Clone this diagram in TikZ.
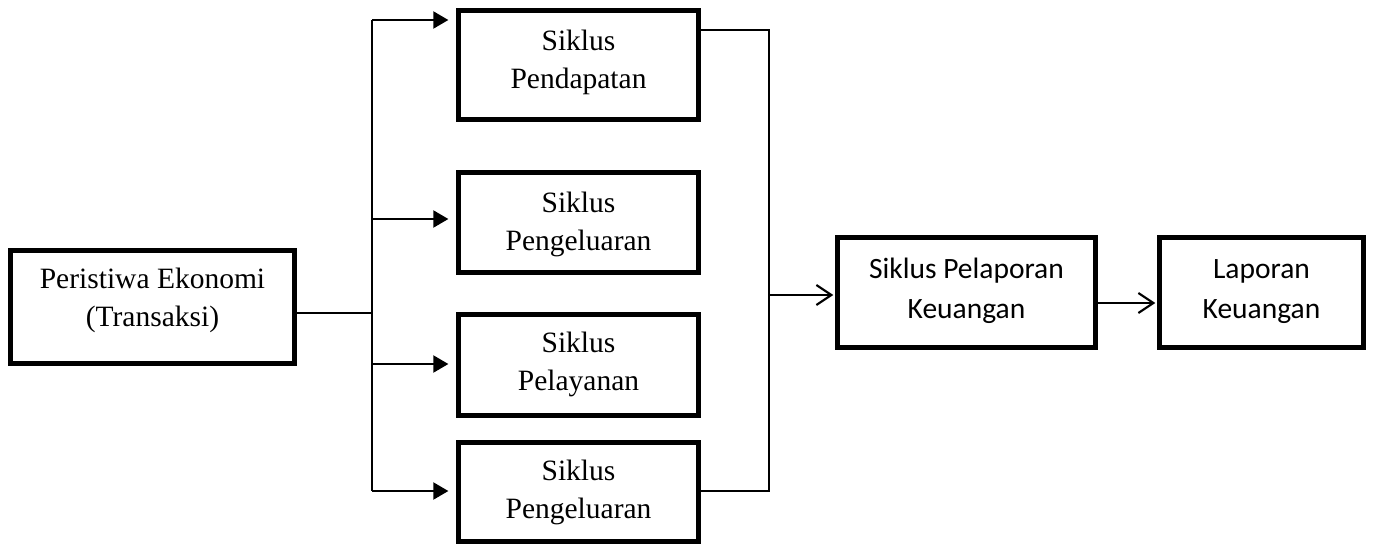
\documentclass[tikz,border=0pt]{standalone}
\usepackage{fontspec}
\setmainfont{Liberation Serif}
\newfontfamily\calib{Carlito}
\usetikzlibrary{arrows.meta}
\newcommand{\twolines}[2]{\vtop{\halign{\hfil##\hfil\cr #1\cr #2\cr}}}
\tikzset{
  box/.style={draw=black,line width=4.7pt,inner sep=0pt,outer sep=0pt},
  sertext/.style={inner sep=0pt,anchor=base,font=\fontsize{29.5}{38.5}\selectfont},
  caltext/.style={inner sep=0pt,anchor=base,font=\calib\fontsize{29.5}{40}\selectfont},
  conn/.style={line width=2pt},
  farrow/.style={conn,-{Triangle[length=15pt,width=17pt]}},
  oarrow/.style={conn,-{Straight Barb[length=15pt,width=20pt,line width=2.2pt]}}
}
\begin{document}
\begin{tikzpicture}[x=1pt,y=-1pt]
\useasboundingbox (0,0) rectangle (1376,544);
% boxes
\node[box,minimum width=284.3pt,minimum height=113.3pt] (pe) at (152.5,307) {};
\node[box,minimum width=240.3pt,minimum height=109.3pt] (s1) at (578.5,65) {};
\node[box,minimum width=240.3pt,minimum height=100.3pt] (s2) at (578.5,222.5) {};
\node[box,minimum width=240.3pt,minimum height=101.3pt] (s3) at (578.5,365) {};
\node[box,minimum width=240.3pt,minimum height=99.3pt] (s4) at (578.5,492) {};
\node[box,minimum width=258.3pt,minimum height=110.3pt] (sp) at (966.5,292.5) {};
\node[box,minimum width=204.3pt,minimum height=110.3pt] (lk) at (1261.5,292.5) {};
% texts
\node[sertext] (tpe) at (152.5,288) {\twolines{Peristiwa Ekonomi}{(Transaksi)}};
\node[sertext] (ts1) at (578.5,50) {\twolines{Siklus}{Pendapatan}};
\node[sertext] (ts2) at (578.5,212) {\twolines{Siklus}{Pengeluaran}};
\node[sertext] (ts3) at (578.5,352) {\twolines{Siklus}{Pelayanan}};
\node[sertext] (ts4) at (578.5,480) {\twolines{Siklus}{Pengeluaran}};
\node[caltext] (tsp) at (966.5,278) {\twolines{Siklus Pelaporan}{Keuangan}};
\node[caltext] (tlk) at (1261.5,278) {\twolines{Laporan}{Keuangan}};
% left bus
\coordinate (lb1) at (372,20);
\coordinate (lb2) at (372,219);
\coordinate (lb3) at (372,364);
\coordinate (lb4) at (372,491);
\coordinate (lbm) at (372,313);
\draw[conn] (lb1) -- (lb4);
\draw[conn] (pe.east |- lbm) -- (lbm);
\draw[farrow,shorten >=10pt] (lb1) -- (lb1 -| s1.west);
\draw[farrow,shorten >=10pt] (lb2) -- (lb2 -| s2.west);
\draw[farrow,shorten >=10pt] (lb3) -- (lb3 -| s3.west);
\draw[farrow,shorten >=10pt] (lb4) -- (lb4 -| s4.west);
% right bus
\coordinate (rb1) at (769,30);
\coordinate (rb4) at (769,491);
\coordinate (rbm) at (769,295);
\coordinate (lm) at (1098,303);
\draw[conn] (s1.east |- rb1) -- (rb1) -- (rb4) -- (s4.east |- rb4);
\draw[oarrow,shorten >=4pt] (rbm) -- (rbm -| sp.west);
\draw[oarrow,shorten >=4pt] (sp.east |- lm) -- (lm -| lk.west);
\end{tikzpicture}
\end{document}
